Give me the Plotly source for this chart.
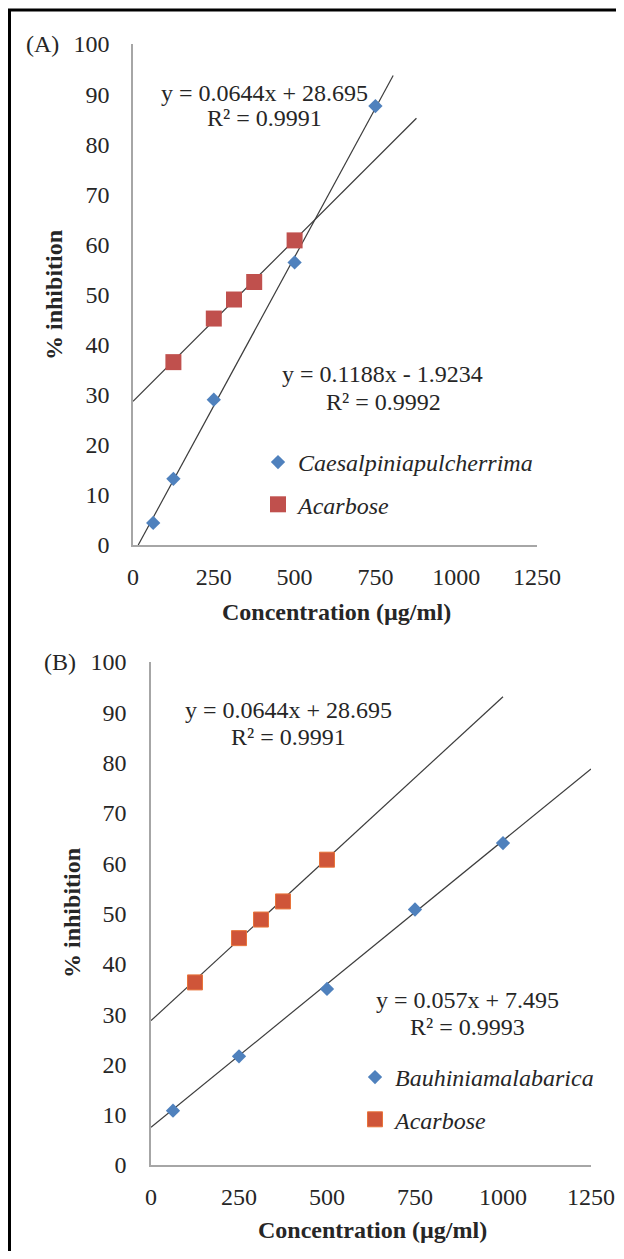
import plotly.graph_objects as go

# page has an 8px body margin; the figure is sized to fit inside the 624x1259 window
OFF = 8
W, H = 608, 1243

# ---------------- data ----------------
conc_caes = [62.5, 125, 250, 500, 750]
inhib_caes = [4.4, 13.2, 29.0, 56.4, 87.6]

conc_acar = [125, 250, 312.5, 375, 500]
inhib_acar_A = [36.5, 45.2, 49.0, 52.5, 60.8]
inhib_acar_B = [36.3, 45.1, 48.8, 52.4, 60.7]

conc_bauh = [62.5, 250, 500, 750, 1000]
inhib_bauh = [10.8, 21.6, 35.0, 50.8, 64.0]

# linear fits (slope, intercept) as printed, and the x extent of each drawn trendline
fit_caes = (0.1188, -1.9234)
fit_acar = (0.0644, 28.695)
fit_bauh = (0.057, 7.495)
trend_end_caes = 805
trend_end_acar_A = 877
trend_end_acar_B = 1000
trend_end_bauh = 1250

x_ticks = [0, 250, 500, 750, 1000, 1250]
y_ticks = [0, 10, 20, 30, 40, 50, 60, 70, 80, 90, 100]

eq_caes = ["y = 0.1188x - 1.9234", "R² = 0.9992"]
eq_acar = ["y = 0.0644x + 28.695", "R² = 0.9991"]
eq_bauh = ["y = 0.057x + 7.495", "R² = 0.9993"]

# ---------------- style ----------------
FONT = "Liberation Serif, Times New Roman, serif"
TXT = "#262626"
FS = 24
BLUE = "#4F81BD"
RED_A = "#C0504D"
RED_B = "#CF5539"
LINE = "#3c3c3c"
AXC = "#a6a6a6"


def px(x):
    return (x - OFF) / W


def py(y):
    return 1 - (y - OFF) / H


def trend(fit, x_end):
    m, b = fit
    x0 = max(0.0, -b / m)
    xs = [x0, x_end]
    return xs, [m * x + b for x in xs]


fig = go.Figure()

# ---- panel A ----
xs, ys = trend(fit_caes, trend_end_caes)
fig.add_trace(go.Scatter(x=xs, y=ys, mode="lines", line=dict(color=LINE, width=1.2),
                         showlegend=False, xaxis="x", yaxis="y", hoverinfo="skip"))
xs, ys = trend(fit_acar, trend_end_acar_A)
fig.add_trace(go.Scatter(x=xs, y=ys, mode="lines", line=dict(color=LINE, width=1.2),
                         showlegend=False, xaxis="x", yaxis="y", hoverinfo="skip"))
fig.add_trace(go.Scatter(x=conc_caes, y=inhib_caes, mode="markers",
                         name="<i>Caesalpiniapulcherrima</i>",
                         marker=dict(symbol="diamond", size=11, color=BLUE, line=dict(width=0)),
                         xaxis="x", yaxis="y", legend="legend", legendgroup="a1"))
fig.add_trace(go.Scatter(x=conc_acar, y=inhib_acar_A, mode="markers",
                         name="<i>Acarbose</i>",
                         marker=dict(symbol="square", size=16, color=RED_A, line=dict(width=0)),
                         xaxis="x", yaxis="y", legend="legend", legendgroup="a2"))

# ---- panel B ----
xs, ys = trend(fit_acar, trend_end_acar_B)
fig.add_trace(go.Scatter(x=xs, y=ys, mode="lines", line=dict(color=LINE, width=1.2),
                         showlegend=False, xaxis="x2", yaxis="y2", hoverinfo="skip"))
xs, ys = trend(fit_bauh, trend_end_bauh)
fig.add_trace(go.Scatter(x=xs, y=ys, mode="lines", line=dict(color=LINE, width=1.2),
                         showlegend=False, xaxis="x2", yaxis="y2", hoverinfo="skip"))
fig.add_trace(go.Scatter(x=conc_bauh, y=inhib_bauh, mode="markers",
                         name="<i>Bauhiniamalabarica</i>",
                         marker=dict(symbol="diamond", size=11, color=BLUE, line=dict(width=0)),
                         xaxis="x2", yaxis="y2", legend="legend2", legendgroup="b1"))
fig.add_trace(go.Scatter(x=conc_acar, y=inhib_acar_B, mode="markers",
                         name="<i>Acarbose</i>",
                         marker=dict(symbol="square", size=15, color=RED_B,
                                     line=dict(width=1, color="#E8743B")),
                         xaxis="x2", yaxis="y2", legend="legend2", legendgroup="b2"))

tickfont = dict(family=FONT, size=FS, color=TXT)


def xaxis(domain, anchor):
    return dict(domain=domain, range=[0, 1250], tickvals=x_ticks, ticks="",
                showgrid=False, zeroline=False, showline=True, linecolor=AXC, linewidth=1.5,
                tickfont=tickfont, anchor=anchor, ticklabelstandoff=9, fixedrange=True,
                automargin=False)


def yaxis(domain, anchor, standoff):
    return dict(domain=domain, range=[0, 100], tickvals=y_ticks, ticks="",
                showgrid=False, zeroline=False, showline=True, linecolor=AXC, linewidth=1.5,
                tickfont=tickfont, anchor=anchor, ticklabelstandoff=standoff, fixedrange=True,
                automargin=False)


legend_font = dict(family=FONT, size=FS, color=TXT)

fig.update_layout(
    template="none",
    width=W, height=H, autosize=False,
    margin=dict(l=0, r=0, t=0, b=0, pad=0, autoexpand=False),
    paper_bgcolor="white", plot_bgcolor="white",
    xaxis=xaxis([px(133), px(537)], "y"),
    yaxis=yaxis([py(545), py(44)], "x", 17),
    xaxis2=xaxis([px(151), px(591)], "y2"),
    yaxis2=yaxis([py(1165), py(662)], "x2", 18),
    legend=dict(x=px(258), y=py(440), xanchor="left", yanchor="top",
                font=legend_font, bgcolor="rgba(0,0,0,0)", tracegroupgap=8,
                traceorder="grouped", itemwidth=30, borderwidth=0),
    legend2=dict(x=px(355), y=py(1055), xanchor="left", yanchor="top",
                 font=legend_font, bgcolor="rgba(0,0,0,0)", tracegroupgap=8,
                 traceorder="grouped", itemwidth=30, borderwidth=0),
    showlegend=True,
)

ann = []


def text(x, y, s, size=FS, angle=0):
    ann.append(dict(x=px(x), y=py(y), xref="paper", yref="paper", text=s, showarrow=False,
                    font=dict(family=FONT, size=size, color=TXT), textangle=angle,
                    align="center", xanchor="center", yanchor="middle"))


# panel A texts
text(42, 44, "(A)")
text(264, 93, eq_acar[0])
text(264, 118, eq_acar[1])
text(382, 374, eq_caes[0])
text(383, 402, eq_caes[1])
text(336, 612, "<b>Concentration (µg/ml)</b>")
text(54, 295, "<b>% inhibition</b>", angle=-90)
# panel B texts
text(60, 662, "(B)")
text(288, 710, eq_acar[0])
text(288, 737, eq_acar[1])
text(467, 1000, eq_bauh[0])
text(467, 1027, eq_bauh[1])
text(372, 1230, "<b>Concentration (µg/ml)</b>")
text(72, 913, "<b>% inhibition</b>", angle=-90)

fig.update_layout(annotations=ann)

# outer frame (top and left borders)
fig.add_shape(type="line", xref="paper", yref="paper", x0=px(8), x1=1, y0=py(10), y1=py(10),
              line=dict(color="black", width=3))
fig.add_shape(type="line", xref="paper", yref="paper", x0=px(9.5), x1=px(9.5), y0=py(9), y1=0,
              line=dict(color="black", width=3))

fig.write_html("out.html")
